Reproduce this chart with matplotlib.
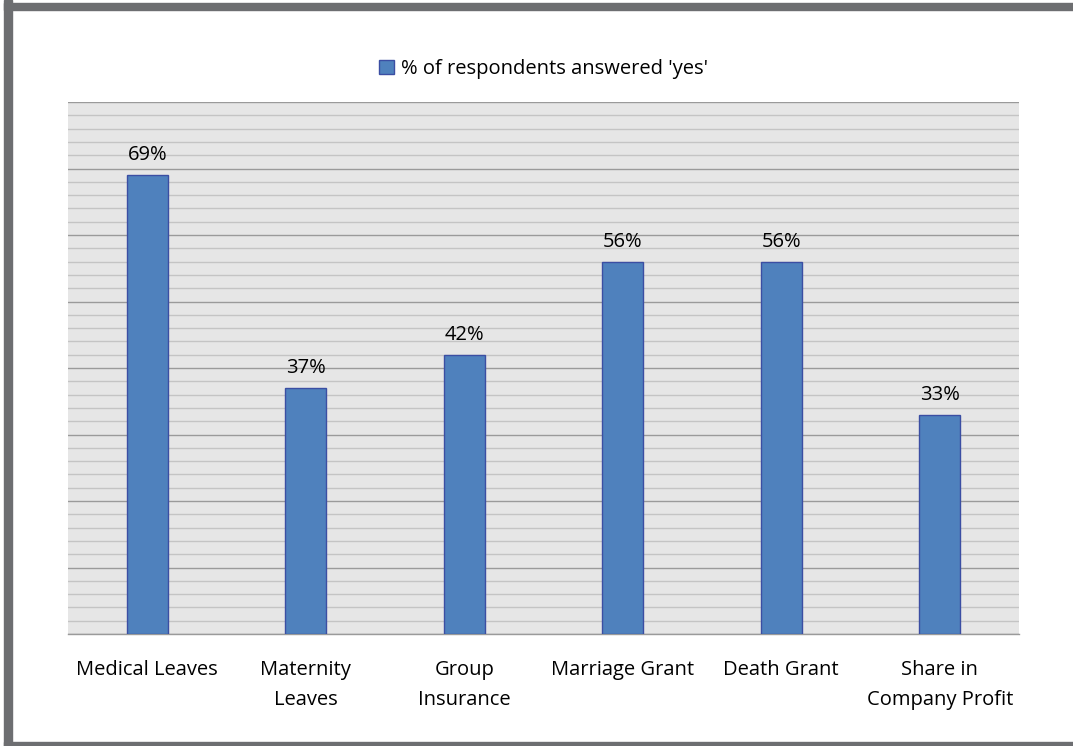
import matplotlib
matplotlib.use("Agg")
import matplotlib.pyplot as plt
from matplotlib.patches import Rectangle
from matplotlib.ticker import MultipleLocator

categories = ["Medical Leaves", "Maternity\nLeaves", "Group\nInsurance",
              "Marriage Grant", "Death Grant", "Share in\nCompany Profit"]
values = [69, 37, 42, 56, 56, 33]
series_name = "% of respondents answered 'yes'"

plt.rcParams['font.family'] = ['Open Sans', 'DejaVu Sans']

W, H = 1073, 746
fig = plt.figure(figsize=(W / 100, H / 100), dpi=100)
fig.patch.set_facecolor("white")

# outer frame (gray bands on left, top, bottom)
frame_c = "#6d6e71"
fig.patches.append(Rectangle((4 / W, 0), 8 / W, 1, transform=fig.transFigure, color=frame_c, zorder=0))
fig.patches.append(Rectangle((4 / W, 1 - 10 / H), 1, 7 / H, transform=fig.transFigure, color=frame_c, zorder=0))
fig.patches.append(Rectangle((4 / W, 0), 1, 4 / H, transform=fig.transFigure, color=frame_c, zorder=0))

ax = fig.add_axes([68 / W, (H - 634) / H, (1019 - 68) / W, (634 - 102) / H])
ax.set_facecolor("#e6e6e6")

x = range(len(categories))
bars = ax.bar(x, values, width=0.26, color="#4f81bd", edgecolor="#3b4ea3",
              linewidth=1.0, zorder=3, label=series_name)

ax.set_xlim(-0.5, len(categories) - 0.5)
ax.set_ylim(0, 80)
ax.yaxis.set_major_locator(MultipleLocator(10))
ax.yaxis.set_minor_locator(MultipleLocator(2))
ax.grid(axis="y", which="minor", color="#c4c4c4", linewidth=1.0, zorder=1)
ax.grid(axis="y", which="major", color="#9a9a9a", linewidth=1.0, zorder=2)
ax.tick_params(axis="y", which="both", left=False, labelleft=False)
ax.tick_params(axis="x", length=0, pad=18.5, labelsize=14.5)
ax.set_xticks(list(x))
ax.set_xticklabels(categories, linespacing=1.7, va="top")
for s in ["left", "right", "top"]:
    ax.spines[s].set_visible(False)
ax.spines["bottom"].set_color("#9a9a9a")
ax.spines["bottom"].set_linewidth(1.0)

for b, v in zip(bars, values):
    ax.annotate(f"{v}%", (b.get_x() + b.get_width() / 2, v), xytext=(0, 7),
                textcoords="offset points", ha="center", va="bottom", fontsize=14.5)

leg = ax.legend(loc="center", bbox_to_anchor=(0.5, (634 - 69) / (634 - 102)),
                frameon=False, fontsize=14.5, handlelength=0.75, handleheight=0.75,
                handletextpad=0.35)

fig.savefig("out.png", dpi=100, facecolor="white")
